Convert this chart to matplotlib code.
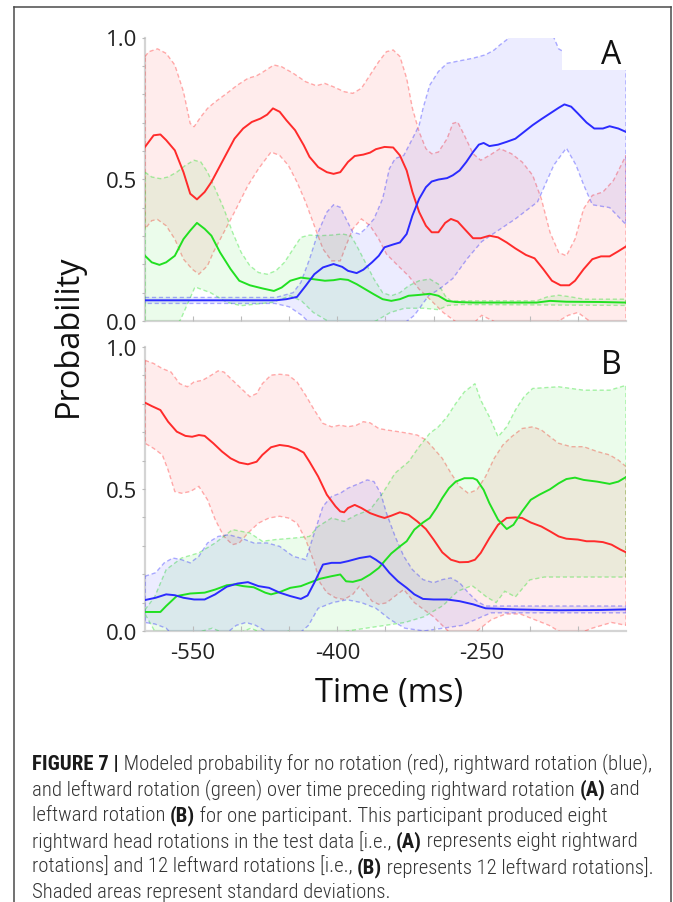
import numpy as np
import matplotlib
matplotlib.use("Agg")
import matplotlib.pyplot as plt
from matplotlib import font_manager
from matplotlib.lines import Line2D
from matplotlib.patches import Rectangle

plt.rcParams['axes.unicode_minus'] = False

# ---------------- data: panel A (preceding rightward rotation) ----------------
a_red_t = [-600,-591,-584,-578,-569,-560,-553,-546,-538,-531,-518,-507,-498,-489,-480,-473,-467,-460,-453,-444,-435,-429,-420,-411,-404,-397,-389,-382,-373,-366,-360,-351,-342,-335,-328,-322,-315,-308,-302,-295,-288,-282,-275,-268,-259,-251,-242,-233,-224,-215,-204,-195,-186,-177,-168,-159,-153,-144,-135,-126,-117,-108,-100]
a_red_v = [0.614,0.655,0.658,0.638,0.602,0.525,0.449,0.429,0.455,0.490,0.573,0.643,0.679,0.702,0.714,0.728,0.750,0.738,0.708,0.673,0.620,0.579,0.543,0.525,0.519,0.525,0.561,0.582,0.587,0.594,0.606,0.614,0.612,0.584,0.531,0.455,0.384,0.336,0.313,0.313,0.346,0.360,0.351,0.325,0.292,0.292,0.301,0.295,0.277,0.256,0.233,0.221,0.183,0.142,0.126,0.126,0.142,0.183,0.218,0.228,0.228,0.246,0.263]
a_blue_t = [-600,-527,-464,-453,-442,-433,-424,-415,-404,-395,-389,-380,-373,-364,-357,-351,-342,-335,-328,-322,-315,-308,-302,-295,-286,-280,-273,-266,-259,-253,-248,-242,-233,-224,-215,-206,-197,-188,-179,-170,-164,-157,-150,-141,-133,-124,-117,-108,-100]
a_blue_v = [0.073,0.073,0.073,0.077,0.085,0.124,0.165,0.189,0.201,0.191,0.177,0.169,0.181,0.207,0.230,0.260,0.270,0.277,0.307,0.372,0.431,0.472,0.492,0.499,0.504,0.514,0.531,0.561,0.596,0.622,0.628,0.617,0.622,0.632,0.643,0.667,0.691,0.712,0.732,0.752,0.764,0.756,0.732,0.700,0.679,0.679,0.687,0.679,0.667]
a_green_t = [-600,-593,-585,-578,-569,-560,-553,-546,-538,-531,-522,-511,-502,-491,-478,-466,-458,-449,-438,-426,-413,-404,-397,-389,-380,-371,-362,-353,-344,-335,-326,-315,-304,-295,-286,-277,-259,-215,-193,-179,-162,-126,-100]
a_green_v = [0.230,0.207,0.198,0.207,0.230,0.289,0.319,0.346,0.325,0.301,0.242,0.183,0.142,0.126,0.115,0.106,0.118,0.142,0.153,0.148,0.142,0.144,0.148,0.145,0.130,0.112,0.094,0.077,0.071,0.077,0.089,0.092,0.096,0.089,0.071,0.067,0.065,0.065,0.065,0.071,0.068,0.067,0.065]

a_red_up_t = [-600,-596,-587,-578,-569,-560,-553,-549,-542,-535,-527,-515,-504,-493,-484,-478,-466,-458,-446,-433,-422,-413,-404,-393,-384,-375,-366,-357,-349,-342,-335,-328,-322,-315,-308,-302,-295,-286,-280,-275,-268,-259,-251,-242,-231,-219,-208,-197,-188,-179,-170,-162,-153,-144,-135,-124,-113,-100]
a_red_up_v = [0.933,0.950,0.960,0.944,0.903,0.809,0.697,0.685,0.720,0.750,0.773,0.803,0.832,0.856,0.865,0.877,0.903,0.897,0.874,0.844,0.830,0.838,0.826,0.809,0.803,0.821,0.868,0.915,0.950,0.956,0.933,0.856,0.750,0.667,0.608,0.590,0.596,0.643,0.697,0.702,0.655,0.590,0.567,0.584,0.608,0.590,0.561,0.514,0.431,0.313,0.242,0.230,0.289,0.396,0.443,0.455,0.496,0.584]
a_red_lo_t = [-600,-593,-587,-578,-569,-560,-551,-544,-535,-529,-518,-507,-493,-482,-469,-460,-451,-442,-433,-424,-415,-406,-397,-391,-384,-375,-366,-357,-349,-337,-326,-315,-304,-290,-278,-265,-250,-238,-220,-200,-180,-160,-150,-138,-120,-100]
a_red_lo_v = [0.325,0.354,0.358,0.336,0.289,0.218,0.183,0.165,0.195,0.242,0.313,0.384,0.478,0.537,0.596,0.584,0.549,0.490,0.419,0.336,0.254,0.212,0.212,0.266,0.325,0.360,0.336,0.289,0.236,0.195,0.159,0.112,0.077,0.03,0.0,-0.03,0.02,0.0,-0.04,-0.05,-0.02,0.02,0.03,0.0,-0.04,-0.05]
a_blue_up_t = [-600,-464,-446,-438,-429,-420,-411,-404,-397,-391,-384,-377,-371,-362,-353,-346,-340,-331,-322,-315,-311,-304,-295,-286,-277,-268,-259,-246,-237,-231,-224,-215,-200,-180,-170,-165,-150,-130,-100]
a_blue_up_v = [0.083,0.083,0.100,0.136,0.218,0.313,0.384,0.410,0.401,0.360,0.313,0.307,0.325,0.360,0.431,0.537,0.573,0.584,0.643,0.691,0.750,0.832,0.880,0.909,0.915,0.921,0.927,0.939,0.956,0.974,0.992,1.03,1.05,1.04,0.96,0.95,0.95,0.95,0.95]
a_blue_lo_t = [-600,-465,-450,-437,-425,-400,-380,-365,-350,-335,-320,-305,-295,-280,-265,-250,-237,-215,-192,-175,-162,-152,-144,-135,-117,-100]
a_blue_lo_v = [0.062,0.062,0.05,0.02,-0.02,-0.06,-0.05,-0.03,-0.02,-0.02,0.02,0.09,0.11,0.15,0.22,0.28,0.31,0.36,0.42,0.55,0.61,0.55,0.48,0.41,0.40,0.34]
a_green_up_t = [-600,-593,-584,-576,-567,-558,-549,-542,-535,-527,-518,-509,-500,-491,-482,-473,-464,-455,-446,-438,-429,-418,-406,-395,-386,-380,-371,-362,-353,-344,-335,-326,-315,-304,-295,-288,-282,-273,-193,-182,-170,-157,-144,-100]
a_green_up_v = [0.525,0.508,0.502,0.508,0.525,0.549,0.567,0.561,0.525,0.466,0.396,0.313,0.242,0.195,0.171,0.165,0.177,0.207,0.254,0.295,0.303,0.301,0.303,0.307,0.301,0.266,0.207,0.148,0.100,0.089,0.100,0.124,0.142,0.148,0.130,0.089,0.071,0.071,0.071,0.085,0.091,0.085,0.077,0.077]
a_green_lo_t = [-600,-575,-563,-548,-532,-515,-500,-467,-449,-437,-425,-410,-395,-375,-360,-345,-330,-310,-295,-285,-270,-100]
a_green_lo_v = [-0.10,-0.05,0.005,0.12,0.10,0.066,0.054,0.066,0.089,0.07,0.03,0.0,-0.03,-0.02,0.0,0.03,0.045,0.045,0.04,0.055,0.058,0.055]

# ---------------- data: panel B (preceding leftward rotation) ----------------
b_red_t = [-600,-593,-584,-576,-567,-558,-551,-544,-538,-529,-520,-511,-502,-493,-484,-478,-469,-460,-451,-442,-435,-429,-420,-411,-402,-397,-393,-389,-382,-375,-366,-357,-351,-344,-335,-326,-317,-308,-300,-291,-282,-273,-264,-257,-251,-242,-233,-224,-215,-208,-199,-188,-179,-170,-162,-150,-141,-133,-124,-115,-106,-100]
b_red_v = [0.804,0.792,0.778,0.737,0.702,0.687,0.684,0.690,0.687,0.661,0.632,0.608,0.593,0.587,0.596,0.620,0.647,0.655,0.651,0.641,0.628,0.596,0.544,0.480,0.439,0.421,0.418,0.433,0.444,0.433,0.415,0.404,0.398,0.406,0.418,0.409,0.386,0.359,0.322,0.277,0.251,0.242,0.243,0.251,0.275,0.327,0.374,0.398,0.400,0.398,0.382,0.368,0.351,0.333,0.325,0.322,0.316,0.316,0.313,0.304,0.287,0.277]
b_green_t = [-600,-584,-578,-567,-553,-538,-527,-515,-507,-498,-487,-475,-469,-460,-449,-438,-429,-418,-406,-397,-391,-384,-375,-366,-357,-351,-344,-335,-328,-320,-311,-304,-297,-291,-284,-277,-268,-259,-255,-248,-242,-233,-224,-217,-208,-199,-190,-179,-170,-162,-153,-144,-130,-117,-108,-100]
b_green_v = [0.067,0.067,0.088,0.123,0.132,0.135,0.146,0.161,0.164,0.158,0.154,0.135,0.129,0.137,0.152,0.158,0.170,0.184,0.193,0.199,0.175,0.173,0.181,0.199,0.222,0.246,0.273,0.298,0.316,0.357,0.382,0.398,0.433,0.468,0.503,0.526,0.538,0.538,0.532,0.497,0.450,0.392,0.359,0.374,0.421,0.462,0.480,0.499,0.520,0.535,0.540,0.532,0.526,0.518,0.526,0.542]
b_blue_t = [-600,-589,-578,-569,-560,-549,-538,-527,-515,-504,-493,-482,-471,-460,-449,-438,-431,-424,-415,-406,-397,-389,-377,-366,-360,-353,-346,-337,-328,-320,-311,-300,-286,-273,-259,-246,-215,-170,-126,-100]
b_blue_v = [0.109,0.117,0.129,0.126,0.117,0.111,0.111,0.129,0.156,0.167,0.172,0.158,0.152,0.135,0.123,0.113,0.125,0.170,0.234,0.240,0.240,0.246,0.257,0.263,0.251,0.234,0.205,0.175,0.152,0.129,0.113,0.111,0.111,0.105,0.094,0.080,0.076,0.073,0.074,0.076]

b_red_up_t = [-600,-591,-582,-573,-564,-556,-549,-540,-531,-524,-518,-509,-500,-491,-484,-478,-469,-460,-451,-442,-433,-424,-415,-406,-397,-389,-380,-373,-366,-357,-349,-337,-326,-317,-308,-300,-291,-282,-273,-264,-255,-246,-237,-228,-219,-208,-197,-188,-179,-170,-157,-144,-130,-117,-108,-100]
b_red_up_v = [0.953,0.942,0.924,0.912,0.871,0.860,0.877,0.883,0.901,0.916,0.912,0.883,0.854,0.825,0.836,0.871,0.901,0.904,0.901,0.877,0.830,0.778,0.731,0.719,0.725,0.719,0.725,0.737,0.733,0.713,0.708,0.702,0.696,0.690,0.673,0.643,0.608,0.556,0.509,0.485,0.497,0.544,0.608,0.655,0.684,0.713,0.719,0.708,0.684,0.661,0.649,0.649,0.632,0.620,0.602,0.579]
b_red_lo_t = [-600,-591,-582,-576,-569,-562,-553,-544,-535,-527,-518,-509,-502,-493,-482,-471,-460,-451,-442,-433,-424,-418,-411,-402,-393,-384,-377,-371,-364,-357,-349,-340,-331,-320,-300,-285,-270,-255,-240,-225,-210,-195,-180,-165,-150,-135,-115,-100]
b_red_lo_v = [0.661,0.643,0.620,0.567,0.491,0.485,0.491,0.509,0.462,0.392,0.333,0.304,0.310,0.345,0.380,0.398,0.404,0.398,0.380,0.322,0.240,0.170,0.135,0.117,0.111,0.129,0.158,0.135,0.105,0.094,0.099,0.123,0.146,0.10,0.05,0.0,-0.02,0.0,0.04,0.06,0.06,0.04,0.02,-0.01,-0.01,0.01,0.03,0.02]
b_green_up_t = [-600,-590,-578,-562,-544,-527,-509,-491,-478,-464,-446,-429,-420,-406,-393,-380,-366,-353,-340,-326,-315,-304,-295,-286,-277,-268,-257,-251,-242,-233,-224,-215,-206,-197,-170,-144,-117,-100]
b_green_up_v = [0.075,0.12,0.216,0.257,0.275,0.310,0.357,0.345,0.316,0.322,0.327,0.333,0.368,0.398,0.386,0.409,0.427,0.485,0.556,0.596,0.649,0.696,0.719,0.754,0.801,0.842,0.871,0.813,0.754,0.684,0.719,0.778,0.825,0.854,0.860,0.848,0.848,0.865]
b_green_lo_t = [-600,-590,-575,-550,-530,-510,-490,-470,-450,-430,-410,-390,-370,-350,-330,-310,-290,-275,-260,-245,-235,-226,-215,-200,-185,-170,-150,-130,-100]
b_green_lo_v = [0.06,0.0,-0.03,-0.01,0.01,-0.02,0.01,-0.02,0.0,-0.03,-0.02,0.0,0.01,0.02,0.03,0.05,0.09,0.14,0.16,0.12,0.10,0.14,0.12,0.18,0.19,0.19,0.19,0.19,0.19]
b_blue_up_t = [-600,-589,-580,-571,-562,-553,-544,-535,-524,-513,-500,-487,-473,-460,-446,-433,-424,-415,-406,-397,-389,-377,-369,-362,-355,-349,-340,-331,-322,-311,-300,-291,-282,-273,-264,-255,-246,-100]
b_blue_up_v = [0.193,0.205,0.240,0.257,0.251,0.240,0.263,0.310,0.333,0.339,0.327,0.310,0.310,0.298,0.263,0.251,0.345,0.439,0.474,0.485,0.503,0.520,0.532,0.526,0.485,0.415,0.333,0.263,0.216,0.181,0.170,0.181,0.187,0.170,0.135,0.105,0.088,0.088]
b_blue_lo_t = [-600,-590,-578,-570,-520,-505,-495,-485,-470,-440,-430,-420,-405,-390,-375,-360,-345,-330,-310,-290,-270,-250,-240,-100]
b_blue_lo_v = [0.03,0.025,0.01,-0.02,-0.02,0.02,0.03,0.02,-0.01,-0.01,0.02,0.08,0.10,0.11,0.10,0.08,0.04,0.01,0.0,0.01,0.02,0.05,0.064,0.064]

x_ticks = [-550, -400, -250]
x_tick_labels = ["-550", "-400", "-250"]
y_ticks = [0.0, 0.5, 1.0]
y_tick_labels = ["0.0", "0.5", "1.0"]
panel_letters = ["A", "B"]
x_label = "Time (ms)"
y_label = "Probability"

caption_lines = [
    [("FIGURE 7 |", True), (" Modeled probability for no rotation (red), rightward rotation (blue),", False)],
    [("and leftward rotation (green) over time preceding rightward rotation ", False), ("(A)", True), (" and", False)],
    [("leftward rotation ", False), ("(B)", True), (" for one participant. This participant produced eight", False)],
    [("rightward head rotations in the test data [i.e., ", False), ("(A)", True), (" represents eight rightward", False)],
    [("rotations] and 12 leftward rotations [i.e., ", False), ("(B)", True), (" represents 12 leftward rotations].", False)],
    [("Shaded areas represent standard deviations.", False)],
]

# ---------------- styling ----------------
W, H = 673, 903
RED = (1.0, 0.17, 0.17)
BLUE = (0.17, 0.17, 1.0)
GREEN = (0.13, 0.88, 0.13)
installed = {f.name for f in font_manager.fontManager.ttflist}
AX_FONT = "Open Sans" if "Open Sans" in installed else "DejaVu Sans"
CAP_FONT = "Liberation Sans Narrow" if "Liberation Sans Narrow" in installed else (
    "Roboto Condensed" if "Roboto Condensed" in installed else "Liberation Sans")
REG_WEIGHT = "light"

fig = plt.figure(figsize=(W / 100, H / 100), dpi=100)


def px_rect(l, t, r, b):
    return [l / W, 1 - b / H, (r - l) / W, (b - t) / H]


def band(ax, tu, vu, tl, vl, col):
    xs = list(tu) + list(tl)[::-1]
    ys = list(vu) + list(vl)[::-1]
    ax.fill(xs, ys, facecolor=col + (0.085,), edgecolor=col + (0.38,),
            linestyle=(0, (3, 2)), linewidth=1.0, zorder=1)


def style_axes(ax, show_xlabels):
    ax.set_xlim(-600, -100)
    ax.set_ylim(0, 1)
    for s in ("top", "right"):
        ax.spines[s].set_visible(False)
    for s in ("left", "bottom"):
        ax.spines[s].set_color("#d4d4d4")
        ax.spines[s].set_linewidth(1.6)
        ax.spines[s].set_zorder(0.5)
    ax.set_yticks(y_ticks)
    ax.set_yticklabels(y_tick_labels, fontsize=16, fontfamily=AX_FONT, color="#222222")
    ax.set_yticks(np.arange(0.1, 1.0, 0.1), minor=True)
    ax.tick_params(axis="y", which="both", direction="out", length=2.5, width=0.8,
                   color="#bbbbbb", pad=3)
    ax.set_xticks(x_ticks)
    ax.set_xticks(np.arange(-550, -100, 50), minor=True)
    ax.tick_params(axis="x", which="both", direction="in", length=3.5, width=0.8,
                   color="#bbbbbb", pad=8)
    if show_xlabels:
        ax.set_xticklabels(x_tick_labels, fontsize=16, fontfamily=AX_FONT, color="#222222")
    else:
        ax.set_xticklabels([])
    ax.patch.set_alpha(0)


panels = [
    dict(rect=px_rect(145, 38.5, 626, 322),
         bands=[(a_red_up_t, a_red_up_v, a_red_lo_t, a_red_lo_v, RED),
                (a_green_up_t, a_green_up_v, a_green_lo_t, a_green_lo_v, GREEN),
                (a_blue_up_t, a_blue_up_v, a_blue_lo_t, a_blue_lo_v, BLUE)],
         lines=[(a_red_t, a_red_v, RED), (a_green_t, a_green_v, GREEN), (a_blue_t, a_blue_v, BLUE)],
         xl=False),
    dict(rect=px_rect(145, 348, 626, 632),
         bands=[(b_red_up_t, b_red_up_v, b_red_lo_t, b_red_lo_v, RED),
                (b_green_up_t, b_green_up_v, b_green_lo_t, b_green_lo_v, GREEN),
                (b_blue_up_t, b_blue_up_v, b_blue_lo_t, b_blue_lo_v, BLUE)],
         lines=[(b_red_t, b_red_v, RED), (b_green_t, b_green_v, GREEN), (b_blue_t, b_blue_v, BLUE)],
         xl=True),
]

for i, p in enumerate(panels):
    ax = fig.add_axes(p["rect"])
    for tu, vu, tl, vl, col in p["bands"]:
        band(ax, tu, vu, tl, vl, col)
    for t, v, col in p["lines"]:
        ax.plot(t, v, color=col, lw=1.4, zorder=3)
    style_axes(ax, p["xl"])
    # white label box and panel letter
    ax.add_patch(Rectangle((0.867, 0.884), 0.133, 0.2, transform=ax.transAxes,
                           facecolor="white", edgecolor="none", zorder=4, clip_on=False))
    ax.text(0.97, 0.94, panel_letters[i], transform=ax.transAxes, ha="center", va="center",
            fontsize=23, fontfamily=AX_FONT, color="#111111", zorder=5)

fig.text(68 / W, 1 - 336 / H, y_label, rotation=90, ha="center", va="center",
         fontsize=23.5, fontfamily=AX_FONT, color="#111111")
fig.text(389 / W, 1 - 694 / H, x_label, ha="center", va="center",
         fontsize=23.5, fontfamily=AX_FONT, color="#111111")

# outer frame
frame_kw = dict(color="#4a4a4a", lw=1.1, transform=fig.transFigure)
fig.add_artist(Line2D([14 / W, 14 / W], [0, 1 - 8 / H], **frame_kw))
fig.add_artist(Line2D([14 / W, 671 / W], [1 - 8 / H, 1 - 8 / H], **frame_kw))
fig.add_artist(Line2D([671 / W, 671 / W], [0, 1 - 8 / H], **frame_kw))

# caption with mixed bold / regular runs
renderer = fig.canvas.get_renderer()


def text_width(s, bold, size):
    w8 = "bold" if bold else REG_WEIGHT
    t = fig.text(0, 0, "I" + s + "I", fontsize=size, fontfamily=CAP_FONT, fontweight=w8)
    t2 = fig.text(0, 0, "II", fontsize=size, fontfamily=CAP_FONT, fontweight=w8)
    w = t.get_window_extent(renderer).width - t2.get_window_extent(renderer).width
    t.remove()
    t2.remove()
    return w


ref_size = 12.0
line1_w = sum(text_width(s, b, ref_size) for s, b in caption_lines[0])
cap_size = ref_size * 620.0 / line1_w

cap_left = 32
cap_y0 = 764
cap_dy = 25.8
for li, segs in enumerate(caption_lines):
    x = cap_left
    y = cap_y0 + li * cap_dy
    for s, b in segs:
        fig.text(x / W, 1 - y / H, s, fontsize=cap_size, fontfamily=CAP_FONT,
                 fontweight="bold" if b else REG_WEIGHT,
                 color="#1a1a1a" if b else "#333333", ha="left", va="center")
        x += text_width(s, b, cap_size)

fig.savefig("out.png", dpi=100)
